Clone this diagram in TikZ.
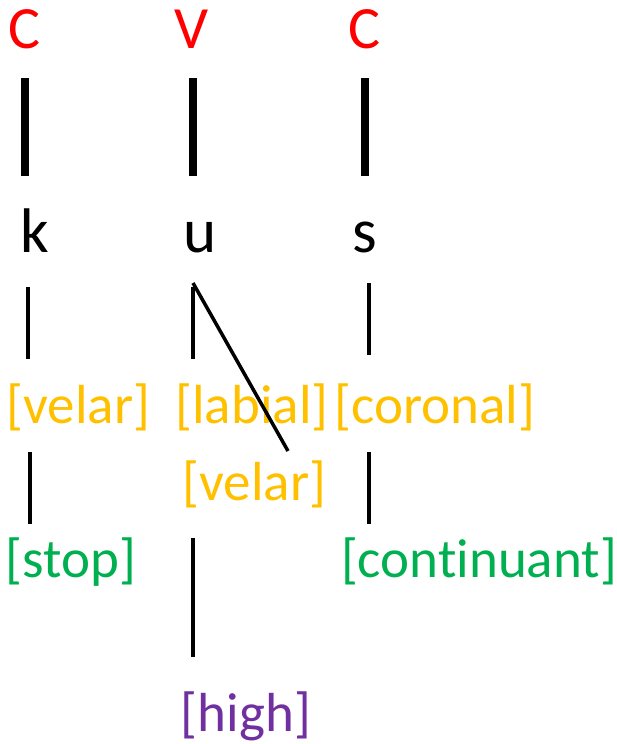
\documentclass[tikz,border=0pt]{standalone}
\usepackage{fontspec}
\setmainfont[Ligatures={NoCommon}]{Carlito}
\definecolor{cred}{HTML}{FF0000}
\definecolor{cyel}{HTML}{FFC000}
\definecolor{cgrn}{HTML}{00B050}
\definecolor{cpur}{HTML}{7030A0}
\tikzset{
  tier/.style={anchor=base,inner sep=0pt,font=\fontsize{60}{72}\selectfont,text=cred},
  seg/.style={anchor=base,inner sep=0pt,font=\fontsize{63}{75}\selectfont},
  feat/.style={anchor=base,inner sep=0pt,font=\fontsize{55}{66}\selectfont},
  thick link/.style={line width=8pt},
  thin link/.style={line width=3.5pt},
}
\begin{document}
\begin{tikzpicture}[x=1pt,y=-1pt]
\useasboundingbox (0,0) rectangle (616,744);
% skeleton
\node[tier] (C1) at (24,48) {C};
\node[tier] (V) at (192,48) {V};
\node[tier] (C2) at (364,48) {C};
% segments
\node[seg] (k) at (35,252) {k};
\node[seg] (u) at (200,252) {u};
\node[seg] (s) at (365,252) {s};
% features
\node[feat,text=cyel] (velar1) at (78.5,423) {[velar]};
\node[feat,text=cyel] (labial) at (252,423) {[labial]};
\node[feat,text=cyel] (coronal) at (435,423) {[coronal]};
\node[feat,text=cyel] (velar2) at (254.5,500) {[velar]};
\node[feat,text=cgrn] (stop) at (71,577) {[stop]};
\node[feat,text=cgrn] (cont) at (479,577) {[continuant]};
\node[feat,text=cpur] (high) at (246,731) {[high]};
% connector end points
\coordinate (c1b) at (25,78);  \coordinate (c1e) at (25,176);
\coordinate (vb) at (193,78);  \coordinate (ve) at (193,176);
\coordinate (c2b) at (365,78); \coordinate (c2e) at (365,176);
\coordinate (kb) at (28,287);  \coordinate (ke) at (28,359);
\coordinate (ub) at (193,287); \coordinate (ue) at (193,359);
\coordinate (db) at (193,283); \coordinate (de) at (288,451);
\coordinate (sb) at (369,283); \coordinate (se) at (369,355);
\coordinate (vsb) at (30,452); \coordinate (vse) at (30,524);
\coordinate (csb) at (369,452); \coordinate (cse) at (369,524);
\coordinate (hb) at (193,538); \coordinate (he) at (193,657);
% connectors
\draw[thick link] (c1b) -- (c1e);
\draw[thick link] (vb) -- (ve);
\draw[thick link] (c2b) -- (c2e);
\draw[thin link] (kb) -- (ke);
\draw[thin link] (ub) -- (ue);
\draw[thin link] (db) -- (de);
\draw[thin link] (sb) -- (se);
\draw[thin link] (vsb) -- (vse);
\draw[thin link] (csb) -- (cse);
\draw[thin link] (hb) -- (he);
\end{tikzpicture}
\end{document}
